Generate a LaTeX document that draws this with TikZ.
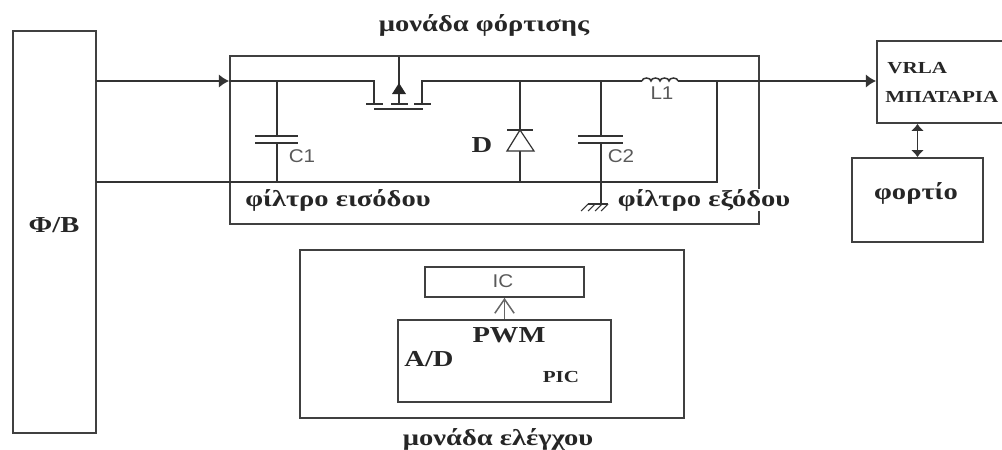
\documentclass[tikz,border=0pt]{standalone}
\usepackage{fontspec}
\setmainfont[FakeStretch=1.25]{Liberation Serif}
\newfontfamily\labelfont[FakeStretch=1.12]{Liberation Sans}
\usetikzlibrary{arrows.meta}

\begin{document}
\begin{tikzpicture}[
  x=0.02cm,y=-0.02cm,
  wire/.style={draw=black!80,line width=0.85pt},
  block/.style={rectangle,draw=black!75,line width=1pt,inner sep=0pt},
  title/.style={inner sep=0pt,font=\bfseries\fontsize{13}{15}\selectfont,text=black!85},
  small/.style={inner sep=0pt,font=\bfseries\fontsize{9.6}{11}\selectfont,text=black!85},
  part/.style={inner sep=0pt,font=\labelfont\fontsize{10.5}{12}\selectfont,text=black!65},
  tip/.style={-{Latex[length=5.7pt,width=7.5pt]}}
]
  \useasboundingbox (0,0) rectangle (1002,450);

  % blocks
  \node[block,minimum width=1.66cm,minimum height=8.04cm] (pv) at (54.5,232) {};
  \node[block,minimum width=10.58cm,minimum height=3.36cm] (charger) at (494.5,140) {};
  \node[block,minimum width=2.52cm,minimum height=1.64cm] (battery) at (940,82) {};
  \node[block,minimum width=2.62cm,minimum height=1.68cm] (load) at (917.5,200) {};
  \node[block,minimum width=7.68cm,minimum height=3.36cm] (control) at (492,334) {};
  \node[block,minimum width=3.18cm,minimum height=0.60cm] (ic) at (504.5,282) {};
  \node[block,minimum width=4.26cm,minimum height=1.64cm] (pic) at (504.5,361) {};

  % labels
  \node[title] (tcharger) at (484,25) {μονάδα φόρτισης};
  \node[title] (tcontrol) at (498,439) {μονάδα ελέγχου};
  \node[title] (tinput) at (338,200) {φίλτρο εισόδου};
  \node[title,fill=white] (toutput) at (704,200) {φίλτρο εξόδου};
  \node[title] (tpv) at (54,225) {Φ/Β};
  \node[title] (tload) at (916,193) {φορτίο};
  \node[title] (tdiode) at (482,145) {D};
  \node[title] (tpwm) at (509,335) {PWM};
  \node[title] (tad) at (429,359) {A/D};
  \node[small] (tpic) at (561,377) {PIC};
  \node[small,anchor=west] (tvrla) at (887,68) {VRLA};
  \node[small,anchor=west] (tbat) at (885,97) {ΜΠΑΤΑΡΙΑ};
  \node[part] (lc1) at (302,156) {C1};
  \node[part] (lc2) at (621,156) {C2};
  \node[part] (ll1) at (662,93) {L1};
  \node[part] (lic) at (503,281) {IC};

  % junctions on the two rails
  \coordinate (pvtop) at (96,81);
  \coordinate (cin) at (229,81);
  \coordinate (c1top) at (277,81);
  \coordinate (pvbot) at (96,182);
  \coordinate (c1bot) at (277,182);
  \coordinate (dtop) at (520,81);
  \coordinate (dbot) at (520,182);
  \coordinate (c2top) at (601,81);
  \coordinate (c2bot) at (601,182);
  \coordinate (coilin) at (642,81);
  \coordinate (coilout) at (678,81);
  \coordinate (rtop) at (717,81);
  \coordinate (rbot) at (717,182);
  \coordinate (batin) at (876,81);
  \coordinate (gnd) at (601,204);

  % rails
  \draw[wire,tip] (pvtop) -- (cin);
  \draw[wire] (cin) -- (374,81) -- (374,104);
  \draw[wire] (422,104) -- (422,81) -- (coilin);
  \draw[wire] (coilin) \foreach \i in {1,...,4} {arc[start angle=180,end angle=360,x radius=4.5,y radius=3]};
  \draw[wire] (coilout) -- (rtop) -- (rbot) -- (pvbot);
  \draw[wire,tip] (rtop) -- (batin);

  % mosfet
  \draw[wire] (366,104) -- (383,104);
  \draw[wire] (391,104) -- (408,104);
  \draw[wire] (414,104) -- (431,104);
  \draw[wire] (374,109) -- (423,109);
  \draw[wire] (399,57) -- (399,104);
  \fill[black!85] (399,83) -- (406,94) -- (392,94) -- cycle;

  % capacitors
  \draw[wire] (c1top) -- (277,136);
  \draw[wire] (277,143) -- (c1bot);
  \draw[wire] (255,136) -- (298,136);
  \draw[wire] (255,143) -- (298,143);
  \draw[wire] (c2top) -- (601,136);
  \draw[wire] (601,143) -- (gnd);
  \draw[wire] (578,136) -- (623,136);
  \draw[wire] (578,143) -- (623,143);

  % diode
  \draw[wire] (dtop) -- (dbot);
  \draw[wire] (507,130) -- (533,130);
  \draw[wire,fill=white,line width=0.7pt] (520,130) -- (534,151) -- (507,151) -- cycle;

  % ground
  \draw[wire,line width=0.6pt] (588,204) -- (608,204);
  \foreach \x in {588,595,602,608}
    \draw[wire,line width=0.6pt] (\x,204) -- ++(-7,7);

  % arrows between blocks
  \draw[wire,{Latex[length=4pt,width=7.5pt]}-{Latex[length=4pt,width=7.5pt]}] (battery.south -| load.north) -- (load.north);
  \draw[wire,draw=black!60,-{Straight Barb[length=8pt,width=11pt]}] (pic.north) -- (ic.south);
\end{tikzpicture}
\end{document}
